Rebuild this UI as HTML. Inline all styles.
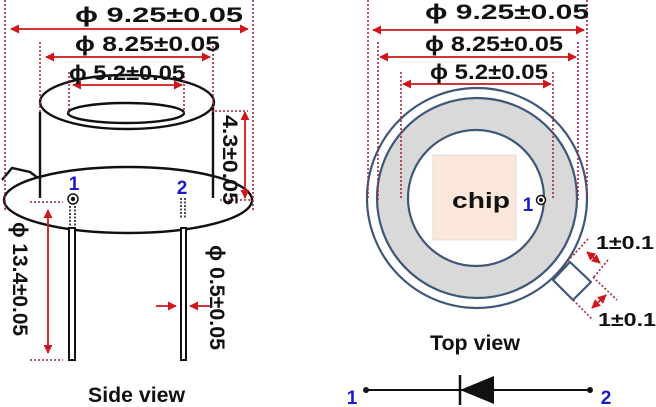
<!DOCTYPE html>
<html><head><meta charset="utf-8"><style>html,body{margin:0;padding:0;background:#fff}svg{display:block}text{font-family:"Liberation Sans",sans-serif;font-weight:bold}</style></head><body>
<svg width="656" height="407" viewBox="0 0 656 407" xmlns="http://www.w3.org/2000/svg">
<defs>
<marker id="a" viewBox="0 0 10 10" refX="9" refY="5" markerWidth="5" markerHeight="5" orient="auto-start-reverse"><path d="M0,0L10,5L0,10z" fill="#d0161c"/></marker>
</defs>
<!-- side view -->
<g fill="none" stroke="#111" stroke-width="2.4">
<path d="M2,180L12,168L30,172L38,178"/>
<ellipse cx="128" cy="200" rx="124" ry="33" fill="#fff"/>
<ellipse cx="127" cy="102" rx="87" ry="27"/>
<ellipse cx="126" cy="113" rx="58" ry="10"/>
<line x1="40" y1="112" x2="40" y2="198"/><line x1="213" y1="104" x2="213" y2="198"/>
<rect x="69" y="228" width="6" height="132" stroke-width="2" fill="#fff"/>
<rect x="181" y="228" width="5" height="132" stroke-width="2" fill="#fff"/>
</g>
<g stroke="#111" stroke-width="1.5" stroke-dasharray="2,1.5">
<line x1="70" y1="206" x2="70" y2="226"/><line x1="75" y1="206" x2="75" y2="226"/>
<line x1="181" y1="198" x2="181" y2="218"/><line x1="185" y1="198" x2="185" y2="218"/>
</g>
<circle cx="73" cy="199" r="5" fill="#fff" stroke="#111" stroke-width="1.5"/><circle cx="73" cy="199" r="2.2" fill="#111"/>
<!-- top view -->
<g stroke="#3f5678" stroke-width="2.2">
<path d="M553,280L570,262L591,282L573,300z" fill="#fff" stroke-linejoin="round"/>
<circle cx="477" cy="198" r="110" fill="#fff"/>
<circle cx="477" cy="198" r="100" fill="#d9d9d9"/>
<circle cx="476" cy="198" r="68" fill="#fff"/>
</g>
<rect x="433" y="155" width="83" height="85" fill="#fbe8da" stroke="#ddd"/>
<text x="452" y="208" font-size="22" textLength="58" lengthAdjust="spacingAndGlyphs" fill="#111">chip</text>
<circle cx="541" cy="200" r="4.5" fill="#fff" stroke="#111" stroke-width="1.5"/><circle cx="541" cy="200" r="2" fill="#111"/>
<!-- diode -->
<line x1="366" y1="390" x2="590" y2="390" stroke="#111" stroke-width="2"/>
<circle cx="366" cy="390" r="3" fill="#111"/><circle cx="590" cy="390" r="3" fill="#111"/>
<path d="M460,390L494,376L494,404z" fill="#111"/><line x1="460" y1="375" x2="460" y2="405" stroke="#111" stroke-width="2.5"/>
<!-- dims -->
<g fill="none" stroke="#a3263a" stroke-width="1.6" stroke-dasharray="2,2">
<line x1="5" y1="0" x2="5" y2="212"/><line x1="253" y1="0" x2="253" y2="212"/>
<line x1="40" y1="42" x2="40" y2="112"/><line x1="213" y1="42" x2="213" y2="112"/>
<line x1="69" y1="72" x2="69" y2="113"/><line x1="184" y1="72" x2="184" y2="113"/>
<line x1="215" y1="111" x2="248" y2="111"/><line x1="220" y1="200" x2="250" y2="200"/>
<line x1="30" y1="202" x2="63" y2="202"/><line x1="30" y1="360" x2="63" y2="360"/>
<line x1="368" y1="0" x2="368" y2="200"/><line x1="587" y1="0" x2="587" y2="200"/>
<line x1="378" y1="42" x2="378" y2="200"/><line x1="578" y1="42" x2="578" y2="200"/>
<line x1="401" y1="72" x2="401" y2="200"/><line x1="553" y1="72" x2="553" y2="200"/>
<line x1="588" y1="239" x2="567" y2="262"/><line x1="608" y1="260" x2="593" y2="278"/>
<line x1="593" y1="277" x2="617" y2="300"/><line x1="573" y1="300" x2="593" y2="320"/>
</g>
<g stroke="#d0161c" stroke-width="1.8" marker-start="url(#a)" marker-end="url(#a)">
<line x1="11" y1="29" x2="248" y2="29"/><line x1="46" y1="57" x2="210" y2="57"/><line x1="73" y1="85" x2="182" y2="85"/>
<line x1="245" y1="112" x2="245" y2="198"/><line x1="48" y1="210" x2="48" y2="353"/>
<line x1="373" y1="30" x2="584" y2="30"/><line x1="380" y1="57" x2="576" y2="57"/><line x1="403" y1="84" x2="551" y2="84"/>
<line x1="587" y1="252" x2="600" y2="263"/><line x1="592" y1="308" x2="606" y2="295"/>
</g>
<g stroke="#d0161c" stroke-width="1.8" marker-end="url(#a)">
<line x1="156" y1="306" x2="176" y2="306"/><line x1="210" y1="306" x2="190" y2="306"/>
</g>
<g fill="#111" font-size="21">
<text x="75" y="22" textLength="168" lengthAdjust="spacingAndGlyphs">ϕ 9.25±0.05</text>
<text x="75" y="51" textLength="145" lengthAdjust="spacingAndGlyphs">ϕ 8.25±0.05</text>
<text x="69" y="80" textLength="116" lengthAdjust="spacingAndGlyphs">ϕ 5.2±0.05</text>
<text x="425" y="19" textLength="164" lengthAdjust="spacingAndGlyphs">ϕ 9.25±0.05</text>
<text x="425" y="51" textLength="138" lengthAdjust="spacingAndGlyphs">ϕ 8.25±0.05</text>
<text x="430" y="79" textLength="118" lengthAdjust="spacingAndGlyphs">ϕ 5.2±0.05</text>
<text transform="translate(223,115) rotate(90)" textLength="90" lengthAdjust="spacingAndGlyphs">4.3±0.05</text>
<text transform="translate(13,222) rotate(90)" textLength="114" lengthAdjust="spacingAndGlyphs">ϕ 13.4±0.05</text>
<text transform="translate(210,245) rotate(90)" textLength="105" lengthAdjust="spacingAndGlyphs">ϕ 0.5±0.05</text>
<text x="88" y="402" textLength="97" lengthAdjust="spacingAndGlyphs">Side view</text>
<text x="430" y="350" textLength="90" lengthAdjust="spacingAndGlyphs">Top view</text>
<text x="596" y="249" font-size="18" textLength="58" lengthAdjust="spacingAndGlyphs">1±0.1</text>
<text x="598" y="326" font-size="18" textLength="58" lengthAdjust="spacingAndGlyphs">1±0.1</text>
</g>
<g fill="#1a1acc" font-size="19" text-anchor="middle"><text x="74" y="190">1</text><text x="182" y="194">2</text>
<text x="528" y="211">1</text><text x="352" y="404">1</text><text x="606" y="404">2</text></g>
</svg>
</body></html>
